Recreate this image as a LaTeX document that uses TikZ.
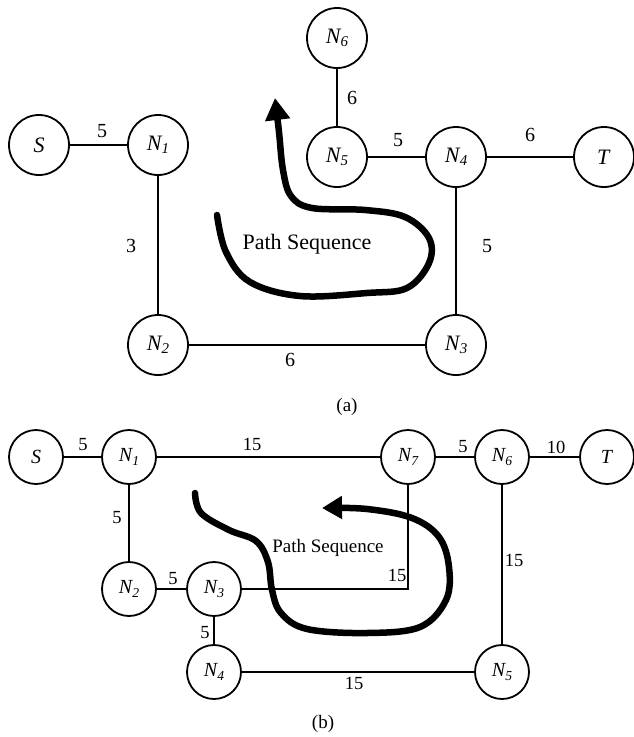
\documentclass[tikz,border=0pt]{standalone}
\usepackage{fontspec}
\usepackage{graphicx}
\setmainfont{Liberation Serif}
\usetikzlibrary{arrows.meta}

% italic node name with a small italic index
\newcommand{\nname}[1]{\textit{N\kern0.3pt\raisebox{-0.35ex}{\scalebox{0.68}{#1}}}}

\tikzset{
  vtxa/.style={circle, draw, line width=1.8pt, minimum size=60pt, inner sep=0pt,
               font=\fontsize{22}{22}\selectfont},
  vtxb/.style={circle, draw, line width=1.8pt, minimum size=54pt, inner sep=0pt,
               font=\fontsize{20}{20}\selectfont},
  link/.style={line width=1.8pt},
  wa/.style={inner sep=0pt, font=\fontsize{20}{20}\selectfont},
  wb/.style={inner sep=0pt, font=\fontsize{18.5}{18.5}\selectfont},
  route/.style={line width=6.5pt, line cap=round, line join=round},
}

\begin{document}
\begin{tikzpicture}[x=1pt, y=-1pt]
\useasboundingbox (0,0) rectangle (634,737);

% ---------------- network (a) ----------------
\node[vtxa] (aS)  at (39,145)  {\textit{S}};
\node[vtxa] (a1)  at (158,145) {\nname{1}};
\node[vtxa] (a2)  at (158,345) {\nname{2}};
\node[vtxa] (a3)  at (456,345) {\nname{3}};
\node[vtxa] (a4)  at (456,157) {\nname{4}};
\node[vtxa] (a5)  at (337,157) {\nname{5}};
\node[vtxa] (a6)  at (337,38)  {\nname{6}};
\node[vtxa] (aT)  at (604,157) {\textit{T}};

\draw[link] (aS) -- (a1);
\draw[link] (a1) -- (a2);
\draw[link] (a2) -- (a3);
\draw[link] (a3) -- (a4);
\draw[link] (a4) -- (a5);
\draw[link] (a5) -- (a6);
\draw[link] (a4) -- (aT);

\node[wa] (wa1) at (102,131) {5};
\node[wa] (wa2) at (131,246) {3};
\node[wa] (wa3) at (290,360) {6};
\node[wa] (wa4) at (487,246) {5};
\node[wa] (wa5) at (398,140) {5};
\node[wa] (wa6) at (352,98)  {6};
\node[wa] (wa7) at (530,135) {6};

\draw[route, -{Triangle[length=22pt, width=24pt]}]
  plot[smooth, tension=0.6] coordinates {
    (217,215) (226,252) (250,282) (300,296) (367,293) (407,288)
    (429,263) (429,238) (405,217) (365,210) (312,208) (291,196)
    (283,170) (279,132) (275,98)};
\node[inner sep=0pt, font=\fontsize{22}{22}\selectfont] (seqa) at (307,244) {Path Sequence};

\node[inner sep=0pt, font=\fontsize{19}{19}\selectfont] (capa) at (347,407) {(a)};

% ---------------- network (b) ----------------
\node[vtxb] (bS) at (36,457)  {\textit{S}};
\node[vtxb] (b1) at (129,457) {\nname{1}};
\node[vtxb] (b2) at (129,589) {\nname{2}};
\node[vtxb] (b3) at (214,589) {\nname{3}};
\node[vtxb] (b4) at (214,672) {\nname{4}};
\node[vtxb] (b5) at (502,672) {\nname{5}};
\node[vtxb] (b6) at (502,457) {\nname{6}};
\node[vtxb] (b7) at (408,457) {\nname{7}};
\node[vtxb] (bT) at (607,457) {\textit{T}};

\draw[link] (bS) -- (b1);
\draw[link] (b1) -- (b7);
\draw[link] (b7) -- (b6);
\draw[link] (b6) -- (bT);
\draw[link] (b1) -- (b2);
\draw[link] (b2) -- (b3);
\draw[link] (b3) -- (b4);
\draw[link] (b4) -- (b5);
\draw[link] (b6) -- (b5);
\draw[link] (b7) |- (b3);

\node[wb] (wb1)  at (83,445)  {5};
\node[wb] (wb2)  at (252,444) {15};
\node[wb] (wb3)  at (463,447) {5};
\node[wb] (wb4)  at (556,447) {10};
\node[wb] (wb5)  at (117,518) {5};
\node[wb] (wb6)  at (173,579) {5};
\node[wb] (wb7)  at (205,633) {5};
\node[wb] (wb8)  at (397,575) {15};
\node[wb] (wb9)  at (514,560) {15};
\node[wb] (wb10) at (354,683) {15};

\draw[route, -{Triangle[length=20pt, width=22pt]}]
  plot[smooth, tension=0.6] coordinates {
    (195,493) (201,513) (229,530) (256,541) (268,562) (272,590)
    (281,613) (307,629) (367,633) (420,627) (446,600) (449,567)
    (439,537) (412,518) (367,509) (322,508)};
\node[inner sep=0pt, font=\fontsize{19}{19}\selectfont] (seqb) at (328,548) {Path Sequence};

\node[inner sep=0pt, font=\fontsize{19}{19}\selectfont] (capb) at (323,724) {(b)};
\end{tikzpicture}
\end{document}
